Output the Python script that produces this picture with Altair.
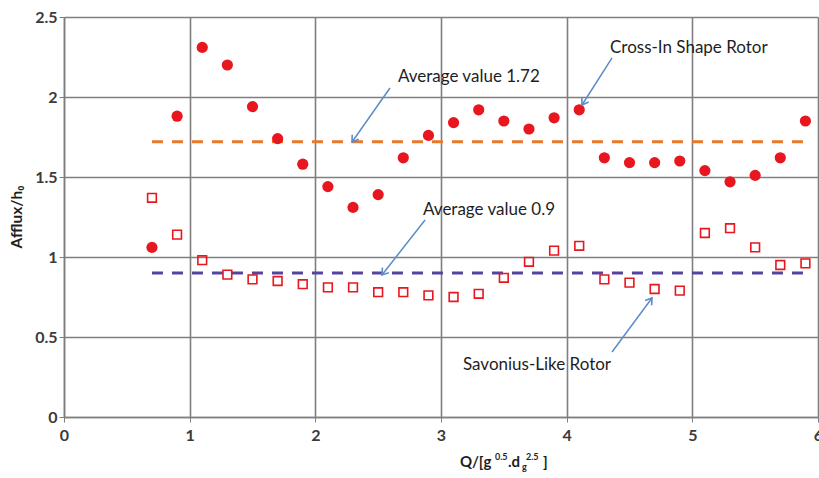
import math
import altair as alt
import pandas as pd

# ---- data ----
x_values = [0.7, 0.9, 1.1, 1.3, 1.5, 1.7, 1.9, 2.1, 2.3, 2.5, 2.7, 2.9, 3.1, 3.3,
            3.5, 3.7, 3.9, 4.1, 4.3, 4.5, 4.7, 4.9, 5.1, 5.3, 5.5, 5.7, 5.9]
cross_in = [1.06, 1.88, 2.31, 2.20, 1.94, 1.74, 1.58, 1.44, 1.31, 1.39, 1.62, 1.76, 1.84, 1.92,
            1.85, 1.80, 1.87, 1.92, 1.62, 1.59, 1.59, 1.60, 1.54, 1.47, 1.51, 1.62, 1.85]
savonius = [1.37, 1.14, 0.98, 0.89, 0.86, 0.85, 0.83, 0.81, 0.81, 0.78, 0.78, 0.76, 0.75, 0.77,
            0.87, 0.97, 1.04, 1.07, 0.86, 0.84, 0.80, 0.79, 1.15, 1.18, 1.06, 0.95, 0.96]
avg_values = [1.72, 0.9]
avg_range = [0.7, 5.9]
x_ticks = [0, 1, 2, 3, 4, 5, 6]
y_ticks = [0, 0.5, 1, 1.5, 2, 2.5]

notes = ["Average value 1.72", "Average value 0.9", "Cross-In Shape Rotor", "Savonius-Like Rotor"]
note_x = [2.657, 2.857, 4.345, 3.175]
note_y = [2.125, 1.294, 2.306, 0.325]
arrow_x = [2.594, 2.873, 4.361, 4.361]
arrow_y = [2.056, 1.231, 2.244, 0.406]
arrow_x2 = [2.292, 2.530, 4.122, 4.679]
arrow_y2 = [1.719, 0.888, 1.950, 0.744]

W, H = 754, 400
XMAX, YMAX = 6, 2.5
FONT = "Lato"

xs = alt.Scale(domain=[0, XMAX], nice=False, zero=False)
ys = alt.Scale(domain=[0, YMAX], nice=False, zero=False)

x_axis = alt.Axis(values=x_ticks, title=None, format="~g", grid=True, labelOverlap=False,
                  labelFlush=False)
y_axis = alt.Axis(values=y_ticks, title=None, format="~g", grid=True, labelFlush=False)

X = alt.X("x:Q", scale=xs, axis=x_axis)
Y = alt.Y("y:Q", scale=ys, axis=y_axis)

df_c = pd.DataFrame({"x": x_values, "y": cross_in})
df_s = pd.DataFrame({"x": x_values, "y": savonius})

circles = alt.Chart(df_c).mark_circle(size=125, color="#e8161e", opacity=1).encode(x=X, y=Y)
squares = alt.Chart(df_s).mark_point(shape="square", filled=False, size=76, color="#e8161e",
                                     strokeWidth=1.6, opacity=1).encode(x=X, y=Y)

df_avg = pd.DataFrame({"x": [avg_range[0]] * 2, "x2": [avg_range[1]] * 2, "y": avg_values,
                       "c": ["#e8792a", "#5444a0"]})
avg_lines = alt.Chart(df_avg).mark_rule(strokeWidth=3, strokeDash=[11, 9]).encode(
    x=X, x2="x2", y=Y, color=alt.Color("c:N", scale=None))

angles = []
for a, b, c, d in zip(arrow_x, arrow_y, arrow_x2, arrow_y2):
    dx = (c - a) * W / XMAX
    dy = -(d - b) * H / YMAX
    angles.append(math.degrees(math.atan2(dx, -dy)) % 360)
df_arr = pd.DataFrame({"x": arrow_x, "y": arrow_y, "x2": arrow_x2, "y2": arrow_y2, "angle": angles})

arrow_lines = alt.Chart(df_arr).mark_rule(color="#5b8cc8", strokeWidth=1.5).encode(
    x=X, y=Y, x2="x2", y2="y2")
arrow_heads = alt.Chart(df_arr).mark_point(shape="M-0.6,0.9L0,0L0.6,0.9", filled=False, size=180,
                                           color="#5b8cc8", strokeWidth=1.6, opacity=1).encode(
    x=alt.X("x2:Q", scale=xs, axis=x_axis), y=alt.Y("y2:Q", scale=ys, axis=y_axis),
    angle=alt.Angle("angle:Q", scale=None))

df_txt = pd.DataFrame({"x": note_x, "y": note_y, "t": notes})
note_text = alt.Chart(df_txt).mark_text(align="left", baseline="middle", font=FONT, fontSize=17,
                                        color="#1e1e1e").encode(x=X, y=Y, text="t:N")

one = pd.DataFrame({"k": [0]})
y_title = alt.Chart(one).mark_text(text="Afflux/h\u2080", angle=270, font=FONT, fontSize=15.5,
                                   fontWeight="bold", color="#1e1e1e", align="center",
                                   baseline="middle").encode(x=alt.value(-47), y=alt.value(200))

# x title built from pieces (superscripts / subscript)
pieces = [("Q/[g", 396, 445, 15), ("0.5", 431, 440, 9), (".d", 444, 445, 15),
          ("g", 458, 450, 9), ("2.5", 462, 440, 9), ("]", 479, 445, 15)]
x_title_layers = []
for txt, px, py, fs in pieces:
    x_title_layers.append(
        alt.Chart(one).mark_text(text=txt, font=FONT, fontSize=fs, fontWeight="bold", color="#1e1e1e",
                                 align="left", baseline="middle").encode(x=alt.value(px), y=alt.value(py)))

chart = alt.layer(avg_lines, circles, arrow_lines, arrow_heads, squares, note_text,
                  y_title, *x_title_layers).properties(
    width=W, height=H, autosize="none",
    padding={"left": 64, "top": 17, "right": 1, "bottom": 61},
    background="white",
).configure_view(stroke="transparent").configure_axis(
    labelFontSize=16, labelFontWeight="bold", labelFont=FONT, labelColor="#3a3a3a",
    tickSize=5, tickColor="#7f7f7f", domainColor="#7f7f7f", domainWidth=1.5,
    gridColor="#7f7f7f", gridWidth=1.6, gridOpacity=1,
).configure_axisX(labelPadding=5).configure_axisY(labelPadding=2)

chart.save("out.html", embed_options={"renderer": "svg", "actions": False})
